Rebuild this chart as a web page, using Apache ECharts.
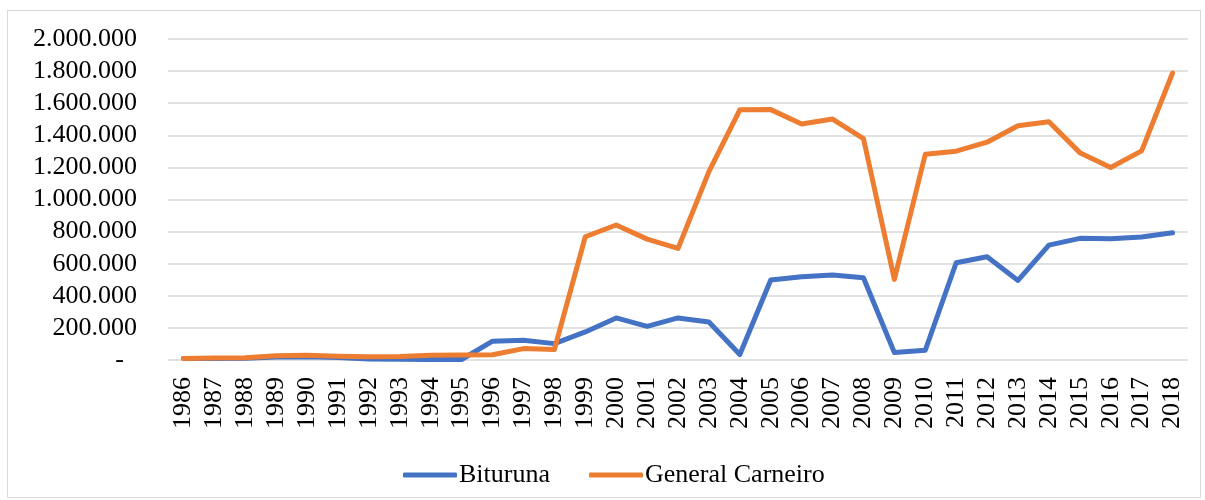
<!DOCTYPE html>
<html>
<head>
    <meta charset="utf-8">
    <title>Bituruna x General Carneiro</title>
    <script type="text/javascript" src="https://cdn.jsdelivr.net/npm/echarts@6/dist/echarts.min.js"></script>
    <style>
        html, body { margin: 0; padding: 0; background: #fff; }
        #frame { position: absolute; left: 7px; top: 10px; width: 1194px; height: 488px; border: 1px solid #d9d9d9; box-sizing: border-box; }
        #main { position: absolute; left: 0; top: 0; width: 1205px; height: 500px; }
    </style>
</head>
<body>
<div id="frame"></div>
<div id="main"></div>
<script type="text/javascript">
    // dados
    var anos = ['1986', '1987', '1988', '1989', '1990', '1991', '1992', '1993', '1994', '1995',
        '1996', '1997', '1998', '1999', '2000', '2001', '2002', '2003', '2004', '2005',
        '2006', '2007', '2008', '2009', '2010', '2011', '2012', '2013', '2014', '2015',
        '2016', '2017', '2018'];
    var bituruna = [9000, 10000, 11000, 18000, 20000, 15000, 6000, 4000, 3000, 3000,
        117000, 123000, 102000, 175000, 262000, 210000, 262000, 237000, 34000, 498000,
        518000, 529000, 512000, 46000, 61000, 606000, 643000, 496000, 716000, 758000,
        756000, 766000, 793000];
    var generalCarneiro = [9000, 12000, 14000, 27000, 30000, 24000, 20000, 22000, 30000, 31000,
        33000, 71000, 65000, 768000, 841000, 753000, 695000, 1174000, 1559000, 1560000,
        1470000, 1501000, 1380000, 502000, 1282000, 1301000, 1357000, 1459000, 1484000, 1292000,
        1199000, 1303000, 1788000];

    var fonte = '"Liberation Serif", "Times New Roman", serif';

    var myChart = echarts.init(document.getElementById('main'));
    var option = {
        animation: false,
        textStyle: { fontFamily: fonte },
        grid: { left: 168, right: 17, top: 39, bottom: 140, containLabel: false },
        legend: {
            left: 398,
            top: 457,
            itemWidth: 54,
            itemHeight: 5,
            itemGap: 39,
            icon: 'roundRect',
            textStyle: { fontFamily: fonte, fontSize: 26, color: '#000', padding: [0, 0, 0, -3] },
            data: ['Bituruna', 'General Carneiro']
        },
        xAxis: {
            type: 'category',
            boundaryGap: true,
            data: anos,
            axisLine: { show: false },
            axisTick: { show: false },
            axisLabel: {
                rotate: 90,
                interval: 0,
                margin: 17,
                fontFamily: fonte,
                fontSize: 26,
                color: '#000'
            }
        },
        yAxis: {
            type: 'value',
            min: 0,
            max: 2000000,
            interval: 200000,
            axisLine: { show: false },
            axisTick: { show: false },
            splitLine: { lineStyle: { color: '#d9d9d9', width: 1.5 } },
            axisLabel: {
                margin: 31,
                fontFamily: fonte,
                fontSize: 26,
                color: '#000',
                formatter: function (v) {
                    if (v === 0) return '-  ';
                    return String(v).replace(/\B(?=(\d{3})+(?!\d))/g, '.');
                }
            }
        },
        series: [{
            name: 'Bituruna',
            type: 'line',
            data: bituruna,
            showSymbol: false,
            symbol: 'none',
            itemStyle: { color: '#4472C4' },
            lineStyle: { color: '#4472C4', width: 5, cap: 'round', join: 'round' }
        }, {
            name: 'General Carneiro',
            type: 'line',
            data: generalCarneiro,
            showSymbol: false,
            symbol: 'none',
            itemStyle: { color: '#ED7D31' },
            lineStyle: { color: '#ED7D31', width: 5, cap: 'round', join: 'round' }
        }]
    };
    myChart.setOption(option);
</script>
</body>
</html>
